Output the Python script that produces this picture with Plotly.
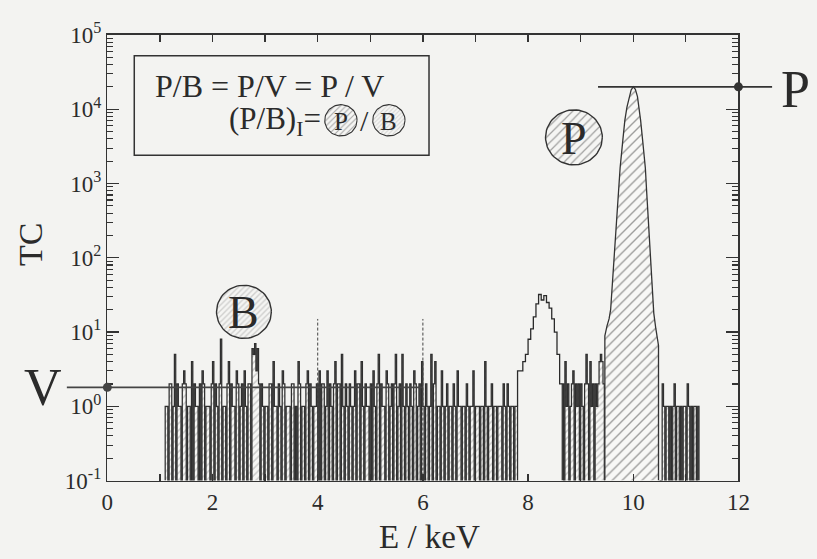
import numpy as np
import plotly.graph_objects as go

# ---------------- data ----------------
bin_width = 0.025                     # keV per channel (background)

bg_left_start = 1.10                  # background 1.10 .. 7.80 keV
bg_left_counts = [
    1, 1, 0, 2, 2, 0, 1, 5, 0, 2, 1, 1, 0, 2, 3, 2, 0, 1, 1, 0,
    4, 0, 2, 1, 1, 0, 2, 0, 3, 2, 0, 1, 1, 1, 0, 2, 4, 0, 2, 1,
    0, 2, 8, 0, 1, 1, 0, 2, 4, 0, 2, 1, 1, 0, 3, 2, 0, 1, 2, 0,
    3, 1, 0, 2, 2, 0, 6, 5, 7, 3, 6, 2, 0, 2, 1, 0, 1, 1, 0, 2,
    2, 0, 4, 1, 1, 0, 2, 1, 0, 3, 2, 0, 1, 1, 1, 0, 2, 2, 0, 1,
    0, 4, 2, 0, 1, 1, 0, 2, 3, 0, 2, 1, 0, 1, 1, 2, 0, 3, 0, 2,
    2, 0, 1, 3, 0, 2, 1, 0, 2, 4, 0, 2, 2, 0, 5, 1, 0, 2, 1, 0,
    2, 1, 0, 1, 3, 0, 2, 2, 0, 4, 1, 0, 2, 1, 1, 0, 2, 0, 3, 1,
    0, 2, 5, 0, 2, 1, 1, 0, 3, 2, 0, 1, 2, 0, 2, 5, 0, 1, 2, 0,
    5, 1, 0, 2, 1, 0, 2, 1, 0, 3, 2, 0, 1, 2, 0, 4, 1, 0, 2, 1,
    0, 1, 5, 0, 2, 4, 0, 1, 1, 0, 3, 1, 0, 1, 2, 0, 1, 1, 0, 2,
    1, 0, 3, 1, 1, 0, 1, 1, 0, 2, 1, 0, 1, 1, 3, 0, 1, 1, 1, 0,
    1, 1, 0, 4, 1, 0, 1, 1, 2, 0, 1, 1, 0, 1, 1, 1, 0, 2, 1, 0,
    2, 1, 0, 1, 1, 0, 1, 1,
]

peak8_width = 0.05
peak8_start = 7.80                    # small line near 8.3 keV
peak8_counts = [3, 3, 4, 5, 8, 11, 16, 24, 32, 27, 31, 25, 21, 15, 10, 5, 2]

bg_mid_start = 8.65                   # 8.65 .. 9.45 keV
bg_mid_counts = [2, 0, 4, 1, 2, 0, 1, 2, 3, 0, 2, 1, 2, 0, 2, 1,
                 0, 2, 5, 2, 0, 4, 1, 2, 0, 2, 1, 2, 4, 5, 4, 2]

bg_right_start = 10.50                # 10.50 .. 11.25 keV
bg_right_counts = [0, 0, 2, 1, 0, 1, 1, 0, 1, 0, 1, 2, 0, 1, 1,
                   0, 1, 0, 1, 1, 0, 2, 1, 0, 1, 0, 1, 1, 0, 1]

peakP_E = [9.46, 9.50, 9.54, 9.57, 9.60, 9.63, 9.66, 9.69, 9.72, 9.75,
           9.80, 9.84, 9.88, 9.92, 9.96, 10.00, 10.04, 10.08, 10.11, 10.14,
           10.18, 10.23, 10.255, 10.28, 10.31, 10.34, 10.365, 10.39, 10.43, 10.48]
peakP_TC = [8.9, 12, 15, 20, 42, 85, 178, 372, 776, 1620,
            3720, 7080, 10700, 14500, 18200, 20000, 18600, 14800, 10700, 7080,
            3720, 1620, 776, 372, 178, 85, 40, 18, 11, 6.6]

V_level = 1.8                         # valley level
V_line_E = [-0.77, 6.0]
P_level = 2.0e4                       # peak level
P_line_E = [9.33, 12.64]
window_E = [4.0, 6.0]                 # dashed window lines
window_TC = [0.1, 15]

x_tick_vals = [0, 2, 4, 6, 8, 10, 12]
x_minor_vals = [1, 3, 5, 7, 9, 11]
y_tick_exps = [-1, 0, 1, 2, 3, 4, 5]

# ---------------- geometry / style ----------------
W, H = 817, 559
PL, PR, PT, PB = 103.5, 748.0, 20.0, 490.0     # frame in pixels
X_RANGE = [0, 12]
Y_RANGE = [-1, 5]                              # log10
FONT = "Liberation Serif"
INK = "#2b2b2b"
PAPER = "#f3f3f1"
Y_FLOOR = 10 ** Y_RANGE[0]

dom_x = [PL / W, PR / W]
dom_y = [1 - PB / H, 1 - PT / H]
kx = (X_RANGE[1] - X_RANGE[0]) / (PR - PL)
ky = (Y_RANGE[1] - Y_RANGE[0]) / (PB - PT)
x2_range = [X_RANGE[0] - PL * kx, X_RANGE[1] + (W - PR) * kx]
y2_range = [Y_RANGE[0] - (H - PB) * ky, Y_RANGE[1] + PT * ky]

fig = go.Figure()


def step_poly(start, counts, width):
    n = len(counts)
    edges = [start + i * width for i in range(n + 1)]
    c = [v if v > 0 else Y_FLOOR for v in counts]
    xs = [edges[0]] + edges + [edges[-1]]
    ys = [Y_FLOOR] + c + [c[-1], Y_FLOOR]
    return xs, ys


bg_pattern = dict(shape="/", fgcolor="#a0a0a0", bgcolor="#f6f6f4", size=5, solidity=0.3)
for start, counts in [(bg_left_start, bg_left_counts),
                      (bg_mid_start, bg_mid_counts),
                      (bg_right_start, bg_right_counts)]:
    xs, ys = step_poly(start, counts, bin_width)
    fig.add_trace(go.Scatter(x=xs, y=ys, mode="lines", line=dict(color="#2f2f2f", width=1.25, shape="hv"),
                             fill="toself", fillcolor="#f6f6f4", fillpattern=bg_pattern,
                             hoverinfo="skip", showlegend=False))

# 8.3 keV line: outline only, joined to the background level on its left
n8 = len(peak8_counts)
e8 = [peak8_start + i * peak8_width for i in range(n8 + 1)]
fig.add_trace(go.Scatter(x=[e8[0]] + e8,
                         y=[bg_left_counts[-1]] + peak8_counts + [peak8_counts[-1]],
                         mode="lines", line=dict(color="#2a2a2a", width=1.3, shape="hv"),
                         hoverinfo="skip", showlegend=False))

# main peak P, hatched
fig.add_trace(go.Scatter(x=[peakP_E[0]] + peakP_E + [peakP_E[-1]],
                         y=[Y_FLOOR] + peakP_TC + [Y_FLOOR],
                         mode="lines", line=dict(color="#333", width=1.3),
                         fill="toself", fillcolor="#f8f8f6",
                         fillpattern=dict(shape="/", fgcolor="#444", bgcolor="#f8f8f6", size=7, solidity=0.2),
                         hoverinfo="skip", showlegend=False))

# dashed window lines
for e in window_E:
    fig.add_trace(go.Scatter(x=[e, e], y=window_TC, mode="lines",
                             line=dict(color="#444", width=1, dash="3px,2px"),
                             hoverinfo="skip", showlegend=False))

# V and P level lines (extend outside the frame) on full-figure overlay axes
fig.add_trace(go.Scatter(x=V_line_E, y=[V_level, V_level], mode="lines",
                         line=dict(color="#444", width=1.6), xaxis="x2", yaxis="y2",
                         hoverinfo="skip", showlegend=False))
fig.add_trace(go.Scatter(x=[X_RANGE[0]], y=[V_level], mode="markers",
                         marker=dict(color="#444", size=9), xaxis="x2", yaxis="y2",
                         hoverinfo="skip", showlegend=False))
fig.add_trace(go.Scatter(x=P_line_E, y=[P_level, P_level], mode="lines",
                         line=dict(color="#333", width=1.8), xaxis="x2", yaxis="y2",
                         hoverinfo="skip", showlegend=False))
fig.add_trace(go.Scatter(x=[X_RANGE[1]], y=[P_level], mode="markers",
                         marker=dict(color="#333", size=9), xaxis="x2", yaxis="y2",
                         hoverinfo="skip", showlegend=False))


# decorative hatched circles (pixel overlay axes)
def circle(cx, cy, r, pattern, lw):
    t = np.linspace(0, 2 * np.pi, 73)
    fig.add_trace(go.Scatter(x=cx + r * np.cos(t), y=cy + r * np.sin(t), mode="lines",
                             line=dict(color="#333", width=lw), fill="toself",
                             fillcolor="#f5f5f3", fillpattern=pattern,
                             xaxis="x3", yaxis="y3", hoverinfo="skip", showlegend=False))


circle(243, 312, 28, dict(shape="/", fgcolor="#aaa", bgcolor="#f5f5f3", size=4, solidity=0.35), 1.4)
circle(580, 128, 29, dict(shape="/", fgcolor="#4a4a4a", bgcolor="#f5f5f3", size=6, solidity=0.2), 1.4)
circle(342, 110, 16.5, dict(shape="/", fgcolor="#555", bgcolor="#f5f5f3", size=4, solidity=0.25), 1.1)
circle(391, 110, 16.5, dict(shape="/", fgcolor="#b5b5b5", bgcolor="#f5f5f3", size=3, solidity=0.35), 1.1)

ann = []


def txt(x, y, s, size, xanchor="center", angle=0, color=INK):
    ann.append(dict(x=x, y=y, xref="x3", yref="y3", text=s, showarrow=False,
                    xanchor=xanchor, yanchor="middle", textangle=angle,
                    font=dict(family=FONT, size=size, color=color)))


txt(243, 313, "B", 46)
txt(580, 129, "P", 46)
txt(342, 111, "P", 25)
txt(391, 111, "B", 25)
txt(366, 110, "/", 30)
txt(150, 74, "P/B = P/V = P / V", 32, xanchor="left")
txt(324, 111, "(P/B)<sub>I</sub>=", 31, xanchor="right")
txt(38, 392, "V", 52)
txt(806, 78, "P", 52)
txt(25, 241, "TC", 34, angle=-90)
txt(432, 549, "E / keV", 33)

fig.add_shape(type="rect", xref="x3", yref="y3", x0=131, x1=432, y0=42, y1=147,
              line=dict(color="#333", width=1.5), fillcolor="rgba(0,0,0,0)")

axis_common = dict(showline=True, linecolor="#333", linewidth=1.5, mirror="allticks",
                   ticks="inside", tickcolor="#333", showgrid=False, zeroline=False,
                   ticklabeloverflow="allow",
                   tickfont=dict(family=FONT, size=23, color=INK))

fig.update_layout(
    width=W, height=H, margin=dict(l=0, r=0, t=0, b=0),
    paper_bgcolor=PAPER, plot_bgcolor="rgba(0,0,0,0)",
    showlegend=False, annotations=ann,
    xaxis=dict(domain=dom_x, range=X_RANGE, tickvals=x_tick_vals,
               ticktext=[str(v) for v in x_tick_vals], ticklen=7, tickwidth=1.3,
               minor=dict(ticks="inside", tickvals=x_minor_vals, ticklen=7, tickcolor="#333", tickwidth=1.3),
               anchor="y", **axis_common),
    yaxis=dict(domain=dom_y, type="log", range=Y_RANGE,
               tickvals=[10.0 ** e for e in y_tick_exps],
               ticktext=["10<sup>%d</sup>" % e for e in y_tick_exps],
               ticklen=12, tickwidth=1.3,
               minor=dict(ticks="inside", ticklen=6, tickcolor="#333", tickwidth=1.1,
                          tickvals=[k * 10.0 ** e for e in y_tick_exps[:-1] for k in range(2, 10)]),
               anchor="x", **axis_common),
    xaxis2=dict(domain=[0, 1], range=x2_range, visible=False, anchor="y2"),
    yaxis2=dict(domain=[0, 1], type="log", range=y2_range, visible=False, anchor="x2"),
    xaxis3=dict(domain=[0, 1], range=[0, W], visible=False, anchor="y3"),
    yaxis3=dict(domain=[0, 1], range=[H, 0], visible=False, anchor="x3"),
)

fig.write_html("out.html",
               config={"displayModeBar": False, "staticPlot": True},
               post_script="document.documentElement.style.margin='0';"
                           "document.body.style.margin='0';document.body.style.overflow='hidden';")
